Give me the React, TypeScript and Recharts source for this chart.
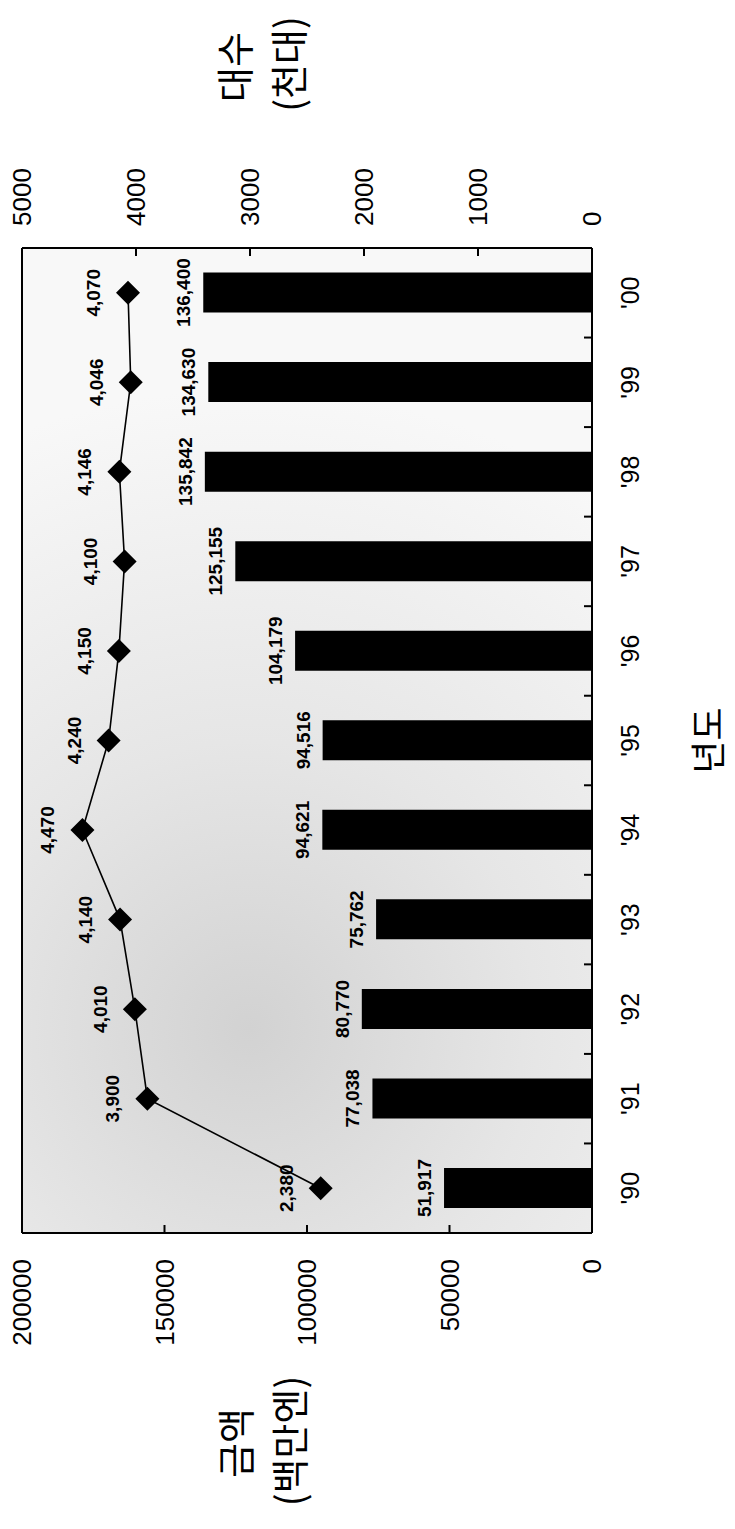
import React from "react"
import {
  ComposedChart,
  Bar,
  Line,
  XAxis,
  YAxis,
  CartesianGrid,
  LabelList,
  ReferenceLine,
} from "recharts"

// values
const years = ["'90", "'91", "'92", "'93", "'94", "'95", "'96", "'97", "'98", "'99", "'00"]
const amounts = [51917, 77038, 80770, 75762, 94621, 94516, 104179, 125155, 135842, 134630, 136400]
const units = [2380, 3900, 4010, 4140, 4470, 4240, 4150, 4100, 4146, 4046, 4070]
const amountTicks = [0, 50000, 100000, 150000, 200000]
const unitTicks = [0, 1000, 2000, 3000, 4000, 5000]

const data = years.map((year, i) => ({ year, amount: amounts[i], units: units[i] }))

// chart is drawn landscape, then turned 90deg to match the scan
const W = 1529
const H = 735
const PLOT_LEFT = 296
const PLOT_RIGHT = 1281
const PLOT_TOP = 22
const PLOT_BOTTOM = 592
const BAND = (PLOT_RIGHT - PLOT_LEFT) / years.length

const NUM_FONT = "'Liberation Sans', Arial, sans-serif"
const KR_FONT = "'Noto Sans CJK KR', 'Noto Sans', sans-serif"

const fmt = (v: any) => Number(v).toLocaleString("en-US")

function LeftTick({ y, payload }: any) {
  return (
    <g>
      <line x1={PLOT_LEFT} x2={PLOT_LEFT + 8} y1={y} y2={y} stroke="#000" strokeWidth={2} />
      <text
        x={270}
        y={y}
        textAnchor="end"
        dominantBaseline="central"
        style={{ fontSize: 26, fontFamily: NUM_FONT, fill: "#000" }}
      >
        {payload.value}
      </text>
    </g>
  )
}

function RightTick({ y, payload }: any) {
  return (
    <g>
      <line x1={PLOT_RIGHT - 8} x2={PLOT_RIGHT} y1={y} y2={y} stroke="#000" strokeWidth={2} />
      <text
        x={1303}
        y={y}
        textAnchor="start"
        dominantBaseline="central"
        style={{ fontSize: 26, fontFamily: NUM_FONT, fill: "#000" }}
      >
        {payload.value}
      </text>
    </g>
  )
}

function XTick({ x, payload, index }: any) {
  const edge = x + BAND / 2
  return (
    <g>
      {index < years.length - 1 && (
        <line x1={edge} x2={edge} y1={PLOT_BOTTOM} y2={PLOT_BOTTOM - 8} stroke="#000" strokeWidth={2} />
      )}
      <text
        x={x}
        y={630}
        textAnchor="middle"
        dominantBaseline="central"
        style={{ fontSize: 25, fontFamily: NUM_FONT, fill: "#000" }}
      >
        {payload.value}
      </text>
    </g>
  )
}

function renderDiamond(props: any) {
  const { cx, cy, index } = props
  const r = 12
  return (
    <path
      key={`d-${index}`}
      d={`M${cx},${cy - r} L${cx + r},${cy} L${cx},${cy + r} L${cx - r},${cy} Z`}
      fill="#000"
    />
  )
}

const titleStyle = { fontSize: 38, fontFamily: KR_FONT, fill: "#000" }

export default function App() {
  return (
    <div
      style={{
        position: "absolute",
        top: 0,
        left: 0,
        width: H,
        height: W,
        overflow: "hidden",
        background: "#fff",
      }}
    >
      <div
        style={{
          position: "absolute",
          top: 0,
          left: 0,
          width: W,
          height: H,
          transformOrigin: "0 0",
          transform: `translateY(${W}px) rotate(-90deg)`,
        }}
      >
        <ComposedChart
          width={W}
          height={H}
          data={data}
          margin={{ top: PLOT_TOP, right: 0, bottom: 0, left: 0 }}
        >
          <defs>
            <radialGradient
              id="scanBg"
              gradientUnits="userSpaceOnUse"
              cx={500}
              cy={250}
              r={640}
            >
              <stop offset="0%" stopColor="#d2d2d2" />
              <stop offset="45%" stopColor="#e6e6e6" />
              <stop offset="100%" stopColor="#f8f8f8" />
            </radialGradient>
          </defs>
          <CartesianGrid horizontal={false} vertical={false} fill="url(#scanBg)" />
          <XAxis
            dataKey="year"
            height={H - PLOT_BOTTOM}
            interval={0}
            tickLine={false}
            tickSize={0}
            axisLine={{ stroke: "#000", strokeWidth: 2 }}
            tick={<XTick />}
            label={() => (
              <text
                x={(PLOT_LEFT + PLOT_RIGHT) / 2}
                y={706}
                textAnchor="middle"
                dominantBaseline="central"
                style={{ ...titleStyle, fontSize: 36 }}
              >
                년도
              </text>
            )}
          />
          <YAxis
            yAxisId="left"
            width={PLOT_LEFT}
            domain={[0, 200000]}
            ticks={amountTicks}
            tickLine={false}
            tickSize={0}
            axisLine={{ stroke: "#000", strokeWidth: 2 }}
            tick={<LeftTick />}
            label={() => (
              <g>
                <text x={86} y={233} textAnchor="middle" dominantBaseline="central" style={titleStyle}>
                  금액
                </text>
                <text x={88} y={287} textAnchor="middle" dominantBaseline="central" style={titleStyle}>
                  (백만엔)
                </text>
              </g>
            )}
          />
          <YAxis
            yAxisId="right"
            orientation="right"
            width={W - PLOT_RIGHT}
            domain={[0, 5000]}
            ticks={unitTicks}
            tickLine={false}
            tickSize={0}
            axisLine={{ stroke: "#000", strokeWidth: 2 }}
            tick={<RightTick />}
            label={() => (
              <g>
                <text x={1462} y={232} textAnchor="middle" dominantBaseline="central" style={titleStyle}>
                  대수
                </text>
                <text x={1465} y={286} textAnchor="middle" dominantBaseline="central" style={titleStyle}>
                  (천대)
                </text>
              </g>
            )}
          />
          <ReferenceLine yAxisId="left" y={200000} stroke="#000" strokeWidth={2} />
          <Bar yAxisId="left" dataKey="amount" fill="#000" barSize={40} isAnimationActive={false}>
            <LabelList
              dataKey="amount"
              position="top"
              offset={13}
              formatter={fmt}
              fill="#000"
              style={{ fontSize: 19, fontWeight: 700, fontFamily: NUM_FONT }}
            />
          </Bar>
          <Line
            yAxisId="right"
            dataKey="units"
            stroke="#000"
            strokeWidth={1.6}
            dot={renderDiamond}
            activeDot={false}
            isAnimationActive={false}
          >
            <LabelList
              dataKey="units"
              position="top"
              offset={28}
              formatter={fmt}
              fill="#000"
              style={{ fontSize: 19, fontWeight: 700, fontFamily: NUM_FONT }}
            />
          </Line>
        </ComposedChart>
      </div>
    </div>
  )
}
